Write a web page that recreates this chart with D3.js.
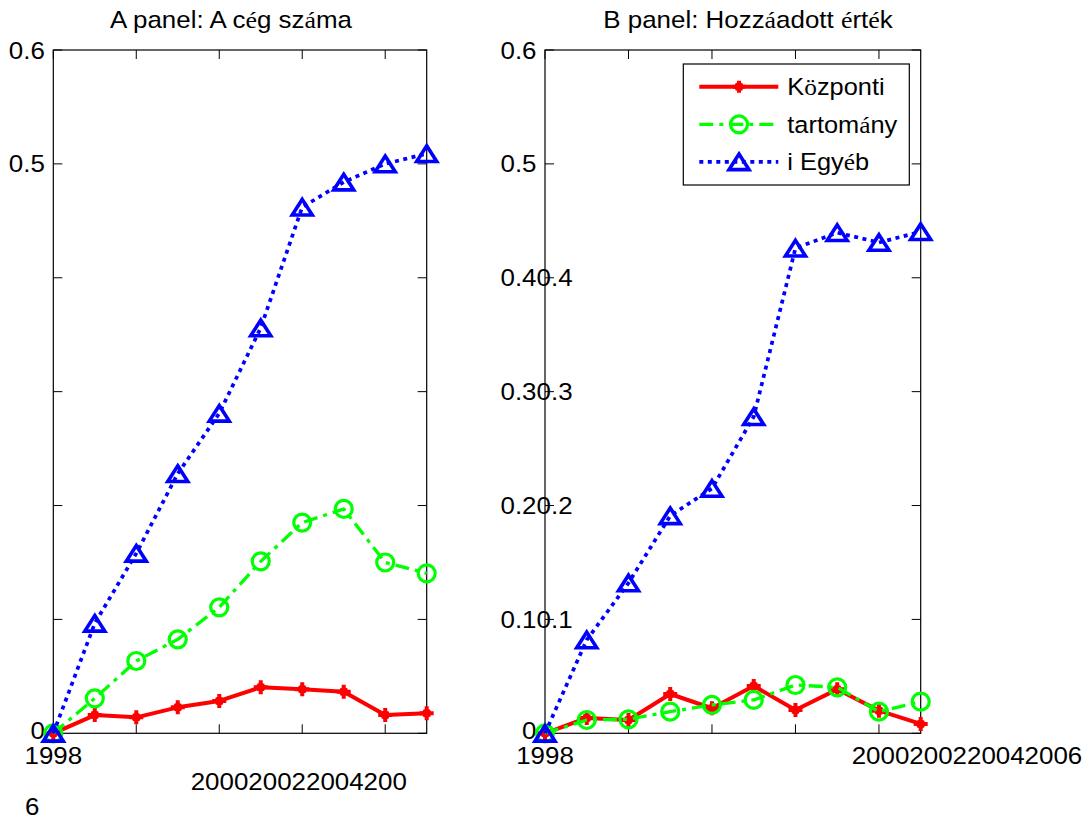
<!DOCTYPE html>
<html><head><meta charset="utf-8">
<script src="https://cdn.jsdelivr.net/npm/d3@7"></script>
<style>html,body{margin:0;padding:0;background:#fff;}svg{display:block;}</style>
</head><body>
<svg id="chart" width="1092" height="819"></svg>
<script>
// ---- data ----
const years = [1998, 1999, 2000, 2001, 2002, 2003, 2004, 2005, 2006, 2007];
const seriesNames = ["Központi", "tartomány", "i Egyéb"];
const aKozponti  = [0, 0.016, 0.014, 0.0228, 0.0284, 0.0404, 0.0386, 0.0365, 0.016, 0.0176];
const aTartomany = [0, 0.0307, 0.0635, 0.0825, 0.1106, 0.151, 0.185, 0.197, 0.150, 0.1405];
const aEgyeb     = [0, 0.0966, 0.158, 0.228, 0.281, 0.356, 0.462, 0.484, 0.5, 0.509];
const bKozponti  = [0, 0.0135, 0.0117, 0.0345, 0.022, 0.0415, 0.0205, 0.0386, 0.0199, 0.0082];
const bTartomany = [0, 0.0117, 0.0123, 0.019, 0.0249, 0.0293, 0.0424, 0.0404, 0.019, 0.0278];
const bEgyeb     = [0, 0.082, 0.132, 0.191, 0.215, 0.278, 0.426, 0.4396, 0.431, 0.4404];
const yTicks = [0, 0.1, 0.2, 0.3, 0.4, 0.5, 0.6];
const xTicks = [1998, 2000, 2002, 2004, 2006];
const yTickLabelsA = ["0", "", "", "", "", "0.5", "0.6"];
const yTickLabelsB = ["0", "0.10.1", "0.20.2", "0.30.3", "0.40.4", "0.5", "0.6"];
const titleA = "A panel: A cég száma";
const titleB = "B panel: Hozzáadott érték";
const xLabelA1 = "1998", xLabelA2 = "200020022004200", xLabelA3 = "6";
const xLabelB1 = "1998", xLabelB2 = "2000200220042006";

// ---- styles ----
const styles = [
  {color: "#ff0000", width: 4, dash: null, marker: "plus"},
  {color: "#00ff00", width: 3.3, dash: "14,6,4,6", marker: "circle"},
  {color: "#0000ff", width: 3.7, dash: "4,4.5", marker: "triangle"}
];

const svg = d3.select("#chart");
svg.append("rect").attr("width", 1092).attr("height", 819).attr("fill", "#fff");

const SX = 1.08;
function drawText(g, str, x, y, anchor, size) {
  const t = g.append("text")
    .attr("transform", `translate(${x},${y}) scale(${SX},1)`)
    .attr("text-anchor", anchor)
    .attr("font-family", "'Liberation Sans', Arial, sans-serif")
    .attr("font-size", size || 24)
    .attr("fill", "#000");
  str.split(/([éáö])/).filter(s => s.length).forEach(s => {
    const ts = t.append("tspan").text(s);
    if (/^[éáö]$/.test(s)) ts.attr("font-family", "'Liberation Serif', 'Times New Roman', serif");
  });
  return t;
}

function drawMarker(g, type, x, y, color, small) {
  if (type === "plus") {
    const a = small ? 6 : 7;
    g.append("path").attr("d", `M${x - a},${y}H${x + a}M${x},${y - a}V${y + a}`)
      .attr("stroke", color).attr("stroke-width", 4).attr("fill", "none");
    g.append("rect").attr("x", x - 4).attr("y", y - 4).attr("width", 8).attr("height", 8)
      .attr("rx", 2).attr("fill", color);
  } else if (type === "circle") {
    g.append("circle").attr("cx", x).attr("cy", y).attr("r", 8.5)
      .attr("stroke", color).attr("stroke-width", 3.2).attr("fill", "none");
  } else {
    g.append("path").attr("d", `M${x},${y - 7.8}L${x + 10},${y + 7.8}L${x - 10},${y + 7.8}Z`)
      .attr("stroke", color).attr("stroke-width", 3.6).attr("fill", "none")
      .attr("stroke-linejoin", "miter");
  }
}

function panel(left, right, data, yLabels) {
  const top = 50, bottom = 733.3;
  const x = d3.scaleLinear().domain([1998, 2007]).range([left, right]);
  const y = d3.scaleLinear().domain([0, 0.6]).range([bottom, top]);
  const g = svg.append("g");
  // box
  g.append("rect").attr("x", left).attr("y", top).attr("width", right - left).attr("height", bottom - top)
    .attr("fill", "none").attr("stroke", "#000").attr("stroke-width", 1.2);
  // ticks (inward, all sides)
  const tl = 9;
  yTicks.forEach(v => {
    const yy = y(v);
    g.append("line").attr("x1", left).attr("x2", left + tl).attr("y1", yy).attr("y2", yy).attr("stroke", "#000");
    g.append("line").attr("x1", right).attr("x2", right - tl).attr("y1", yy).attr("y2", yy).attr("stroke", "#000");
  });
  xTicks.forEach(v => {
    const xx = x(v);
    g.append("line").attr("x1", xx).attr("x2", xx).attr("y1", bottom).attr("y2", bottom - tl).attr("stroke", "#000");
    g.append("line").attr("x1", xx).attr("x2", xx).attr("y1", top).attr("y2", top + tl).attr("stroke", "#000");
  });
  // y tick labels
  yTicks.forEach((v, i) => {
    const lab = yLabels[i];
    if (!lab) return;
    const yy = y(v) + 8.5 - (v === 0 ? 3 : 0);
    if (lab.length > 3) drawText(g, lab, left - 8.5 - 36, yy, "start");
    else drawText(g, lab, left - 8.5, yy, "end");
  });
  // series
  data.forEach((vals, si) => {
    const st = styles[si];
    const line = d3.line().x((d, i) => x(years[i])).y(d => y(d));
    g.append("path").attr("d", line(vals)).attr("fill", "none")
      .attr("stroke", st.color).attr("stroke-width", st.width)
      .attr("stroke-dasharray", st.dash).attr("stroke-linejoin", "round");
    vals.forEach((v, i) => drawMarker(g, st.marker, x(years[i]), y(v), st.color));
  });
  return {g, x, y};
}

const A = panel(53.3, 426.7, [aKozponti, aTartomany, aEgyeb], yTickLabelsA);
const B = panel(545, 920.7, [bKozponti, bTartomany, bEgyeb], yTickLabelsB);

// titles
drawText(svg, titleA, 110, 27.5, "start");
drawText(svg, titleB, 603.3, 27.5, "start");

// x labels
drawText(svg, xLabelA1, A.x(1998), 764, "middle");
drawText(svg, xLabelA2, 190.7, 790, "start");
drawText(svg, xLabelA3, 25, 815, "start");
drawText(svg, xLabelB1, B.x(1998), 764, "middle");
drawText(svg, xLabelB2, 851.7, 764, "start");

// legend
const lg = svg.append("g");
lg.append("rect").attr("x", 683.3).attr("y", 64).attr("width", 909.3 - 683.3).attr("height", 185 - 64)
  .attr("fill", "#fff").attr("stroke", "#000").attr("stroke-width", 1.2);
const rowY = [86.7, 124.3, 161.8];
seriesNames.forEach((name, i) => {
  const st = styles[i];
  const yy = rowY[i];
  lg.append("line").attr("x1", 699.3).attr("x2", 778.3).attr("y1", yy).attr("y2", yy)
    .attr("stroke", st.color).attr("stroke-width", st.width).attr("stroke-dasharray", st.dash);
  drawMarker(lg, st.marker, 739, yy, st.color, true);
  drawText(lg, name, 787.3, yy + 8.3, "start", 23.5);
});
</script>
</body></html>
